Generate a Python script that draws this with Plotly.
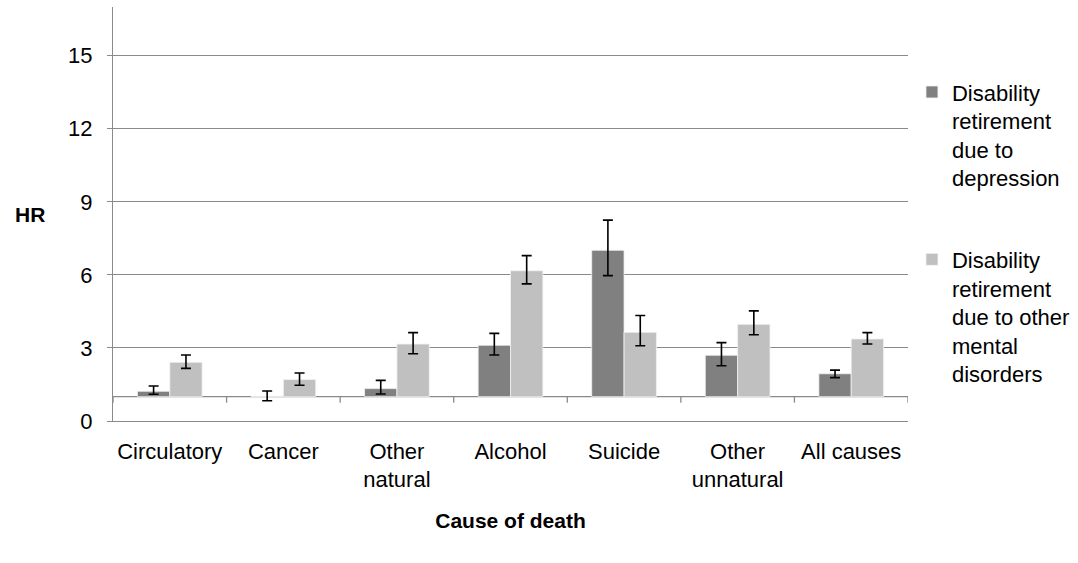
import plotly.graph_objects as go

# Hazard ratios of cause-specific mortality with 95% confidence limits
categories = ["Circulatory", "Cancer", "Other<br>natural", "Alcohol", "Suicide",
              "Other<br>unnatural", "All causes"]

dep_hr = [1.22, 1.01, 1.33, 3.11, 7.01, 2.70, 1.94]
dep_lo = [1.10, 0.83, 1.11, 2.71, 5.97, 2.27, 1.78]
dep_hi = [1.44, 1.23, 1.67, 3.60, 8.25, 3.22, 2.09]

oth_hr = [2.41, 1.70, 3.16, 6.17, 3.64, 3.97, 3.37]
oth_lo = [2.16, 1.47, 2.76, 5.63, 3.09, 3.54, 3.16]
oth_hi = [2.71, 1.97, 3.63, 6.79, 4.33, 4.52, 3.63]

y_ticks = [0, 3, 6, 9, 12, 15]
reference_hr = 1  # category axis crosses the value axis at HR = 1

FONT = "Liberation Sans, Arial, sans-serif"
AXIS_GREY = "#8a8a8a"


def hr_bar(name, hr, lo, hi, color, group):
    return go.Bar(
        name=name,
        x=categories,
        y=[v - reference_hr for v in hr],
        base=reference_hr,
        marker=dict(color=color, line=dict(color="#f2f2f2", width=0.8)),
        error_y=dict(
            type="data",
            symmetric=False,
            array=[h - v for h, v in zip(hi, hr)],
            arrayminus=[v - l for v, l in zip(hr, lo)],
            color="black",
            thickness=1.6,
            width=5,
        ),
        legendgroup=group,
    )


fig = go.Figure()
fig.add_trace(hr_bar("Disability<br>retirement<br>due to<br>depression",
                     dep_hr, dep_lo, dep_hi, "#808080", "dep"))
fig.add_trace(hr_bar("Disability<br>retirement<br>due to other<br>mental<br>disorders",
                     oth_hr, oth_lo, oth_hi, "#c0c0c0", "oth"))

# category axis line at HR = 1 with tick marks between categories
shapes = [dict(type="line", xref="paper", yref="y", x0=0, x1=1,
               y0=reference_hr, y1=reference_hr,
               line=dict(color=AXIS_GREY, width=1.3), layer="below")]
for i in range(len(categories) + 1):
    shapes.append(dict(type="line", xref="x", yref="y", ysizemode="pixel",
                       yanchor=reference_hr, x0=i - 0.5, x1=i - 0.5, y0=0, y1=-6,
                       line=dict(color=AXIS_GREY, width=1.3)))

fig.update_layout(
    width=1078,
    height=563,
    margin=dict(l=113, r=170, t=7, b=142, autoexpand=False),
    paper_bgcolor="white",
    plot_bgcolor="white",
    barmode="group",
    bargap=0.43,
    bargroupgap=0,
    font=dict(family=FONT, size=22, color="black"),
    shapes=shapes,
    showlegend=True,
    legend=dict(
        x=1.005, xanchor="left", y=0.845, yanchor="top",
        font=dict(family=FONT, size=22, color="black"),
        tracegroupgap=50,
        valign="top",
        itemwidth=30,
        bgcolor="rgba(0,0,0,0)",
    ),
    xaxis=dict(
        showgrid=False,
        showline=True,
        linecolor=AXIS_GREY,
        linewidth=1.3,
        ticks="",
        ticklabelstandoff=10,
        tickfont=dict(family=FONT, size=22),
        range=[-0.5, len(categories) - 0.5],
        title=dict(text="<b>Cause of death</b>", font=dict(family=FONT, size=21),
                   standoff=22),
    ),
    yaxis=dict(
        range=[0, 17],
        tickvals=y_ticks,
        showgrid=True,
        gridcolor=AXIS_GREY,
        gridwidth=1,
        showline=True,
        linecolor=AXIS_GREY,
        linewidth=1.3,
        ticks="outside",
        ticklen=5,
        tickcolor=AXIS_GREY,
        ticklabelstandoff=10,
        tickfont=dict(family=FONT, size=22),
        zeroline=False,
    ),
    annotations=[
        dict(text="<b>HR</b>", xref="paper", yref="y", x=-0.104, y=8.5,
             xanchor="center", yanchor="middle", showarrow=False,
             font=dict(family=FONT, size=21)),
    ],
)

fig.write_html("out.html")
